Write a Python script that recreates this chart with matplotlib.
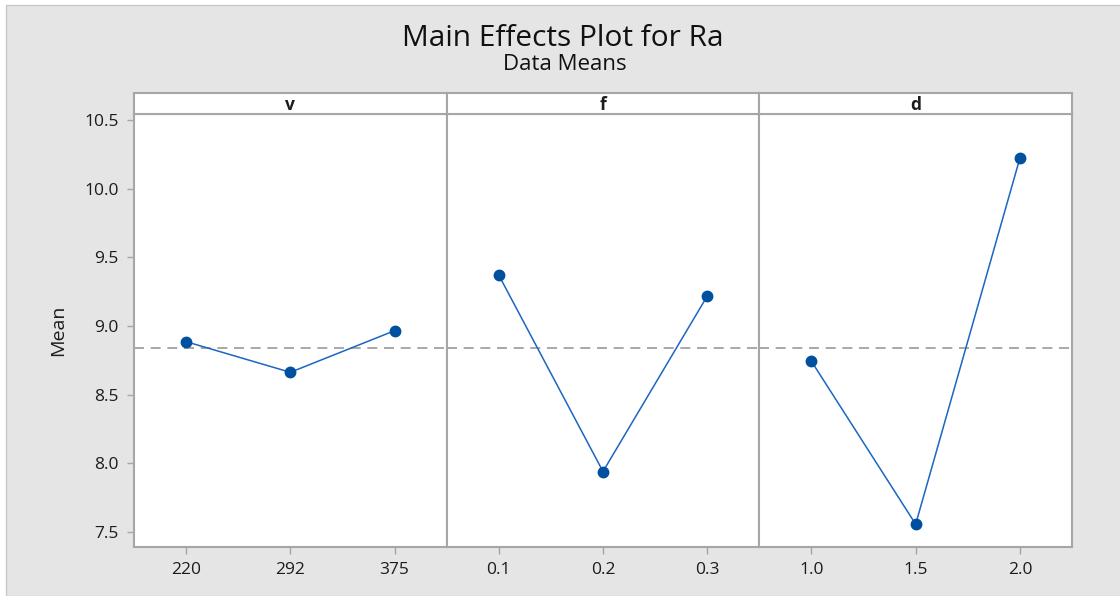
import numpy as np
import matplotlib
matplotlib.use("Agg")
import matplotlib.pyplot as plt
from matplotlib.patches import Rectangle

plt.rcParams['font.family'] = ['Open Sans', 'DejaVu Sans']

# factor names, level labels and the mean of Ra at each level
factors = ['v', 'f', 'd']
levels = [['220', '292', '375'], ['0.1', '0.2', '0.3'], ['1.0', '1.5', '2.0']]
means = [[8.886, 8.663, 8.966],
         [9.371, 7.940, 9.218],
         [8.743, 7.556, 10.223]]
grand_mean = np.mean(means)

frame_col = '#a6a6a6'
line_col = '#1a66c2'
dot_col = '#0050a0'
text_col = '#1c1c1c'

W, H = 1120, 596
fig = plt.figure(figsize=(W / 100, H / 100), dpi=100)
fig.patch.set_facecolor('white')
fig.patches.append(Rectangle((6 / W, 0), 1, 1 - 5 / H, transform=fig.transFigure,
                             facecolor='#e5e5e5', edgecolor='#c8c8c8', lw=1, zorder=-10))

left, right = 134 / W, 1072 / W
bottom, top = 1 - 547 / H, 1 - 114 / H
strip_top = 1 - 93 / H
pw = (right - left) / 3

for i, fac in enumerate(factors):
    ax = fig.add_axes([left + i * pw, bottom, pw, top - bottom])
    x = np.arange(3)
    ax.plot(x, means[i], color=line_col, lw=1.1, zorder=3)
    ax.plot(x, means[i], 'o', color=dot_col, ms=7.5, zorder=4)
    ax.axhline(grand_mean, color='#9a9a9a', lw=1.2, ls=(0, (6, 4)), zorder=2)
    ax.set_xlim(-0.5, 2.5)
    ax.set_ylim(7.39, 10.545)
    ax.set_xticks(x)
    ax.set_xticklabels(levels[i])
    ax.set_yticks([7.5, 8.0, 8.5, 9.0, 9.5, 10.0, 10.5])
    ax.set_yticklabels(['7.5', '8.0', '8.5', '9.0', '9.5', '10.0', '10.5'])
    for s in ax.spines.values():
        s.set_color(frame_col)
        s.set_linewidth(1.5)
    ax.tick_params(colors=frame_col, labelcolor=text_col, labelsize=12.5,
                   length=5, width=1, pad=6)
    if i > 0:
        ax.tick_params(axis='y', left=False, labelleft=False)
    else:
        ax.set_ylabel('Mean', fontsize=14, color=text_col, labelpad=12)

    # header strip with the factor name
    sx = fig.add_axes([left + i * pw, top, pw, strip_top - top])
    sx.set_xticks([])
    sx.set_yticks([])
    for s in sx.spines.values():
        s.set_color(frame_col)
        s.set_linewidth(1.5)
    sx.text(0.5, 0.45, fac, ha='center', va='center', fontsize=12.5,
            fontweight='bold', color=text_col, transform=sx.transAxes)

fig.text(563 / W, 1 - 38 / H, 'Main Effects Plot for Ra', ha='center', va='center',
         fontsize=21.5, color='#111111')
fig.text(565 / W, 1 - 65 / H, 'Data Means', ha='center', va='center',
         fontsize=16, color='#111111')

fig.savefig('out.png', dpi=100, facecolor=fig.get_facecolor())
